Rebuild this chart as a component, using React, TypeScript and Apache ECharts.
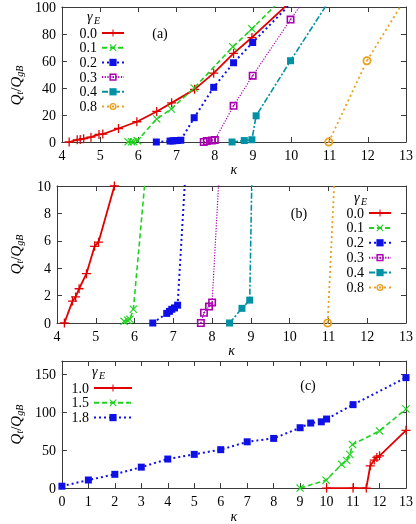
import React, { useEffect, useRef } from "react";
import * as echarts from "echarts";

// ---------- data ----------
const seriesNamesAB = ["0.0", "0.1", "0.2", "0.3", "0.4", "0.8"];
const seriesNamesC = ["1.0", "1.5", "1.8"];

const g00 = [[4.19, 0], [4.4, 1.6], [4.48, 1.9], [4.57, 2.5], [4.76, 3.6], [4.97, 5.6], [5.07, 5.9], [5.48, 10], [5.96, 15], [6.48, 22.6], [6.87, 29], [7.47, 39], [7.97, 51], [8.49, 65.6], [8.97, 77.4], [10, 104.5]];
const g01 = [[5.73, 0.12], [5.82, 0.2], [5.88, 0.27], [5.97, 1.0], [6.48, 17], [6.86, 24.5], [7.46, 40], [8.47, 70.5], [8.97, 83.8], [10, 113]];
const g02 = [[6.47, 0], [6.83, 0.7], [6.9, 0.85], [6.96, 1.0], [7.03, 1.1], [7.11, 1.3], [7.46, 18], [7.97, 40.5], [8.49, 58.7], [8.99, 73.7], [10, 103]];
const g03 = [[7.71, 0], [7.79, 0.75], [7.92, 1.2], [8.0, 1.5], [8.49, 26.8], [8.99, 49.1], [9.98, 90.7], [11, 132]];
const g04 = [[8.45, 0], [8.77, 1.07], [8.97, 1.67], [9.08, 19.4], [9.98, 60.2], [11, 105]];
const g08 = [[10.98, 0], [11.98, 60.2], [13, 107]];

const c10 = [[10, 0], [11, 0], [11.5, 0], [11.65, 29.5], [11.8, 37], [11.9, 40.5], [12, 42.6], [13, 76.4]];
const c15 = [[9, 0], [9.98, 10.5], [10.57, 31.4], [10.76, 36.5], [10.88, 44.4], [10.98, 57.5], [12, 75.6], [13, 104.5]];
const c18 = [[0, 2.5], [1, 10.7], [2, 18.2], [3, 27.7], [4, 38.4], [5, 44.6], [6, 50.8], [7, 61.2], [8, 65.7], [9, 79.8], [9.4, 86], [9.8, 87.6], [10, 91.3], [11, 110.3], [13, 146]];

const xTicksAB = { min: 4, max: 13, interval: 1 };
const yTicksA = { min: 0, max: 100, interval: 20 };
const yTicksB = { min: 0, max: 10, interval: 2 };
const xTicksC = { min: 0, max: 13, interval: 1 };
const yTicksC = { min: 0, max: 168, interval: 50 };

// ---------- styles ----------
const FONT = "Liberation Serif";
const FRAME = "#3a3a3a";

const symPlus = "path://M4.3,0H5.7V4.3H10V5.7H5.7V10H4.3V5.7H0V4.3H4.3Z";
const symX = "path://M1,0L5,4L9,0L10,1L6,5L10,9L9,10L5,6L1,10L0,9L4,5L0,1Z";
const symOpenSq = "path://M0,0H10V10H0Z M2,2V8H8V2Z M4,4H6V6H4Z";
const symOpenCircle = "path://M5,0A5,5,0,1,1,5,10A5,5,0,1,1,5,0Z M5,2A3,3,0,1,0,5,8A3,3,0,1,0,5,2Z M5,4A1,1,0,1,1,5,6A1,1,0,1,1,5,4Z";

const styles: Record<string, any> = {
  red: { color: "#e00000", width: 1.8, type: "solid", symbol: symPlus, size: 9 },
  green: { color: "#1ed21e", width: 1.6, type: [5, 3], symbol: symX, size: 8 },
  blue: { color: "#0f10e6", width: 2, type: [2, 3], symbol: "rect", size: 7 },
  purple: { color: "#a800b0", width: 1.2, type: [1.2, 1.5], symbol: symOpenSq, size: 8 },
  teal: { color: "#0092a4", width: 1.6, type: [6, 2, 2, 2], symbol: "rect", size: 7 },
  orange: { color: "#eaa020", width: 1.8, type: [2, 3], symbol: symOpenCircle, size: 9 },
};

function ser(name: string, data: number[][], gi: number, st: any) {
  return {
    type: "line",
    name,
    data,
    xAxisIndex: gi * 2,
    yAxisIndex: gi * 2,
    symbol: st.symbol,
    symbolSize: st.size,
    showSymbol: true,
    clip: true,
    lineStyle: { color: st.color, width: st.width, type: st.type },
    itemStyle: { color: st.color },
    emphasis: { disabled: true },
  };
}

const frameLine = { show: true, onZero: false, lineStyle: { color: FRAME, width: 1 } };
const tick = { show: true, inside: true, length: 5, lineStyle: { color: FRAME, width: 1 } };

function xAxes(gi: number, t: any) {
  return [
    {
      type: "value", gridIndex: gi, position: "bottom", min: t.min, max: t.max, interval: t.interval,
      axisLine: frameLine, axisTick: tick, splitLine: { show: false },
      axisLabel: { color: "#000", fontFamily: FONT, fontSize: 14, margin: 6 },
      name: "κ", nameLocation: "middle", nameGap: 14,
      nameTextStyle: { fontFamily: FONT, fontSize: 14, fontStyle: "italic", color: "#000" },
    },
    {
      type: "value", gridIndex: gi, position: "top", min: t.min, max: t.max, interval: t.interval,
      axisLine: frameLine, axisTick: tick, splitLine: { show: false }, axisLabel: { show: false },
    },
  ];
}

function yAxes(gi: number, t: any, namePad: number[]) {
  const fmt = (v: number) => (Math.abs(v / t.interval - Math.round(v / t.interval)) < 1e-6 ? String(v) : "");
  return [
    {
      type: "value", gridIndex: gi, position: "left", min: t.min, max: t.max, interval: t.interval,
      axisLine: frameLine, axisTick: tick, splitLine: { show: false },
      axisLabel: { color: "#000", fontFamily: FONT, fontSize: 14, margin: 6, formatter: fmt },
      name: "{q|Q}{s|t}{n|/}{q|Q}{s|gB}", nameLocation: "middle", nameGap: 33,
      nameTextStyle: {
        color: "#000", fontFamily: FONT, fontSize: 15, padding: namePad,
        rich: {
          q: { fontFamily: FONT, fontSize: 15, fontStyle: "italic", color: "#000" },
          n: { fontFamily: FONT, fontSize: 15, color: "#000" },
          s: { fontFamily: FONT, fontSize: 10, fontStyle: "italic", color: "#000", padding: [7, 0, 0, 0] },
        },
      },
    },
    {
      type: "value", gridIndex: gi, position: "right", min: t.min, max: t.max, interval: t.interval,
      axisLine: frameLine, axisTick: tick, splitLine: { show: false }, axisLabel: { show: false },
    },
  ];
}

function legend(names: string[], left: number, top: number, itemWidth: number, step: number) {
  return {
    show: true, orient: "vertical", align: "right", left, top, itemWidth, itemHeight: 9,
    itemGap: step - 13, selectedMode: false, data: names, padding: 0,
    textStyle: { fontFamily: FONT, fontSize: 14, color: "#000", width: 22, lineHeight: 13 },
  };
}

function gammaE(x: number, y: number) {
  return [
    {
      type: "text", x, y,
      style: { text: "γ", fontFamily: FONT, fontSize: 14, fontStyle: "italic", fill: "#000", textVerticalAlign: "middle" },
    },
    {
      type: "text", x: x + 7, y: y + 4,
      style: { text: "E", fontFamily: FONT, fontSize: 10, fontStyle: "italic", fill: "#000", textVerticalAlign: "middle" },
    },
  ];
}

function tag(t: string, x: number, y: number) {
  return {
    type: "text", x, y,
    style: { text: t, fontFamily: FONT, fontSize: 14, fill: "#000", textAlign: "center", textVerticalAlign: "middle" },
  };
}

export default function App() {
  const ref = useRef<HTMLDivElement>(null);
  useEffect(() => {
    if (!ref.current) return;
    const chart = echarts.init(ref.current, undefined, { renderer: "svg" });
    const abData = [g00, g01, g02, g03, g04, g08];
    const abStyles = [styles.red, styles.green, styles.blue, styles.purple, styles.teal, styles.orange];
    const cData = [c10, c15, c18];
    const cStyles = [styles.red, styles.green, styles.blue];
    const series: any[] = [];
    for (const gi of [0, 1]) {
      seriesNamesAB.forEach((n, i) => series.push(ser(n, abData[i], gi, abStyles[i])));
    }
    seriesNamesC.forEach((n, i) => series.push(ser(n, cData[i], 2, cStyles[i])));

    chart.setOption({
      animation: false,
      textStyle: { fontFamily: FONT },
      grid: [
        { left: 52, top: 7, width: 356, height: 135 },
        { left: 52, top: 186, width: 356, height: 137 },
        { left: 53, top: 361, width: 355, height: 137 },
      ],
      xAxis: [...xAxes(0, xTicksAB), ...xAxes(1, xTicksAB), ...xAxes(2, xTicksC)],
      yAxis: [...yAxes(0, yTicksA, [0, 22, 0, 0]), ...yAxes(1, yTicksB, [0, 0, 0, 0]), ...yAxes(2, yTicksC, [0, 0, 0, 0])],
      legend: [
        legend(seriesNamesAB, 75, 26, 22, 13.7),
        legend(seriesNamesAB, 342, 206, 22, 13.9),
        legend(seriesNamesC, 67, 381, 38, 13.8),
      ],
      graphic: [
        ...gammaE(87, 16),
        ...gammaE(354, 197),
        ...gammaE(92, 371),
        tag("(a)", 160, 33),
        tag("(b)", 299, 213),
        tag("(c)", 308, 385),
      ],
      series,
    });
    return () => chart.dispose();
  }, []);
  return <div ref={ref} style={{ position: "fixed", left: 0, top: 0, width: 416, height: 524 }} />;
}
